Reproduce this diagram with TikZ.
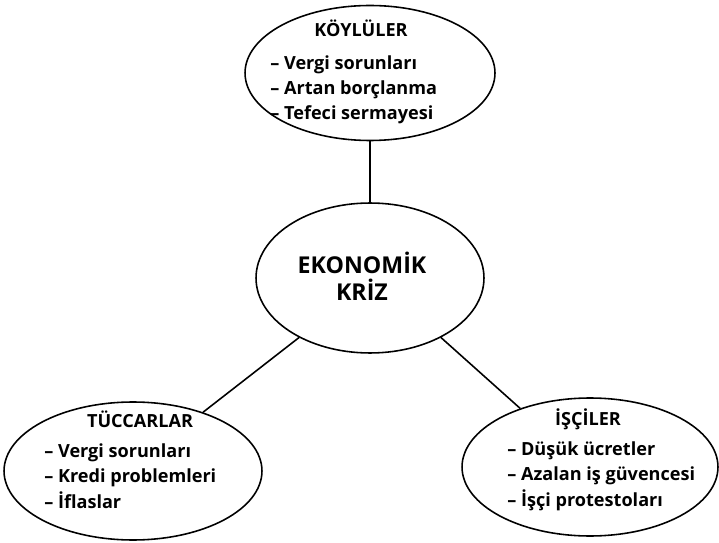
\documentclass[tikz,border=0pt]{standalone}
\usepackage{fontspec}
\setmainfont{Open Sans}
\usetikzlibrary{shapes.geometric}

\begin{document}
\begin{tikzpicture}[x=0.02cm,y=-0.02cm,
    bubble/.style={draw,ellipse,line width=0.9pt,inner sep=0pt},
    title/.style={anchor=base,inner sep=0pt,font=\fontsize{10.3}{14}\selectfont\bfseries},
    items/.style={anchor=base west,inner sep=0pt,align=left,font=\fontsize{10.3}{14.4}\selectfont\bfseries}]
		% Frame
		\useasboundingbox (0,0) rectangle (719,543);
		
		% Draw ellipses
		\node[bubble,minimum width=5cm,minimum height=2.7cm] (koy) at (370,73) {};
		\node[bubble,minimum width=4.56cm,minimum height=3cm] (eko) at (370,278) {};
		\node[bubble,minimum width=5.16cm,minimum height=2.76cm] (tuc) at (133,471) {};
		\node[bubble,minimum width=5.12cm,minimum height=2.76cm] (isc) at (590,467) {};
		
		% Draw connecting lines
		\draw[line width=0.9pt] (koy.south) -- (eko.north);
		\draw[line width=0.9pt] (tuc.40) -- (eko.220);
		\draw[line width=0.9pt] (isc.140) -- (eko.320);
		
		% Centre text
		\node[title,font=\fontsize{13.2}{15.3}\selectfont\bfseries] (ekot1) at (362,274) {EKONOMİK};
		\node[title,font=\fontsize{13.2}{15.3}\selectfont\bfseries] (ekot2) at (362,301) {KRİZ};
		
		% Label groups (anchored at last baseline)
		\node[title] (koyt) at (361,37) {KÖYLÜLER};
		\node[items] (koyl) at (270,120) {-- Vergi sorunları\\-- Artan borçlanma\\-- Tefeci sermayesi};
		
		\node[title] (tuct) at (140,427) {TÜCCARLAR};
		\node[items] (tucl) at (44,508) {-- Vergi sorunları\\-- Kredi problemleri\\-- İflaslar};
		
		\node[title] (isct) at (588,425) {İŞÇİLER};
		\node[items] (iscl) at (507,506) {-- Düşük ücretler\\-- Azalan iş güvencesi\\-- İşçi protestoları};
	\end{tikzpicture}
\end{document}
